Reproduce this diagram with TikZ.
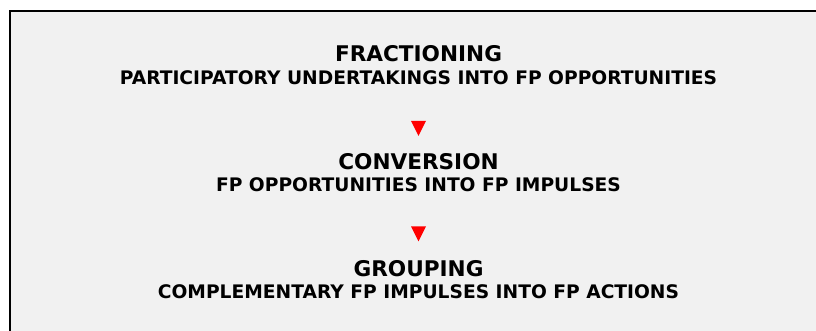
\documentclass[tikz,border=0pt]{standalone}
\usepackage{fontspec}
\setmainfont{DejaVu Sans}
\usetikzlibrary{shapes.geometric}
\definecolor{panelgrey}{HTML}{F1F1F1}

\begin{document}
\begin{tikzpicture}[x=0.75pt,y=-0.75pt,
    steptitle/.style={font=\bfseries\fontsize{16.2}{19}\selectfont,inner sep=0pt},
    stepsub/.style={font=\bfseries\fontsize{14}{16}\selectfont,inner sep=0pt},
    marker/.style={isosceles triangle,isosceles triangle stretches,shape border rotate=-90,
      minimum width=11.25pt,minimum height=11.25pt,inner sep=0pt,fill=red}]
      \useasboundingbox (0,0) rectangle (816,331);
      \fill[panelgrey] (9,10) rectangle (816,331);
      \draw[line width=2pt] (10,331) -- (10,11) -- (816,11);
      % steps
      \node[steptitle] (fractioning) at (418.5,54) {FRACTIONING};
      \node[stepsub] (fractioningsub) at (418.5,78) {PARTICIPATORY UNDERTAKINGS INTO FP OPPORTUNITIES};
      \node[steptitle] (conversion) at (418.5,161.5) {CONVERSION};
      \node[stepsub] (conversionsub) at (418.5,185) {FP OPPORTUNITIES INTO FP IMPULSES};
      \node[steptitle] (grouping) at (418.5,269) {GROUPING};
      \node[stepsub] (groupingsub) at (418.5,291.5) {COMPLEMENTARY FP IMPULSES INTO FP ACTIONS};
      % markers
      \node[marker] (toconversion) at (418.5,125.5) {};
      \node[marker] (togrouping) at (418.5,231) {};
\end{tikzpicture}
\end{document}
